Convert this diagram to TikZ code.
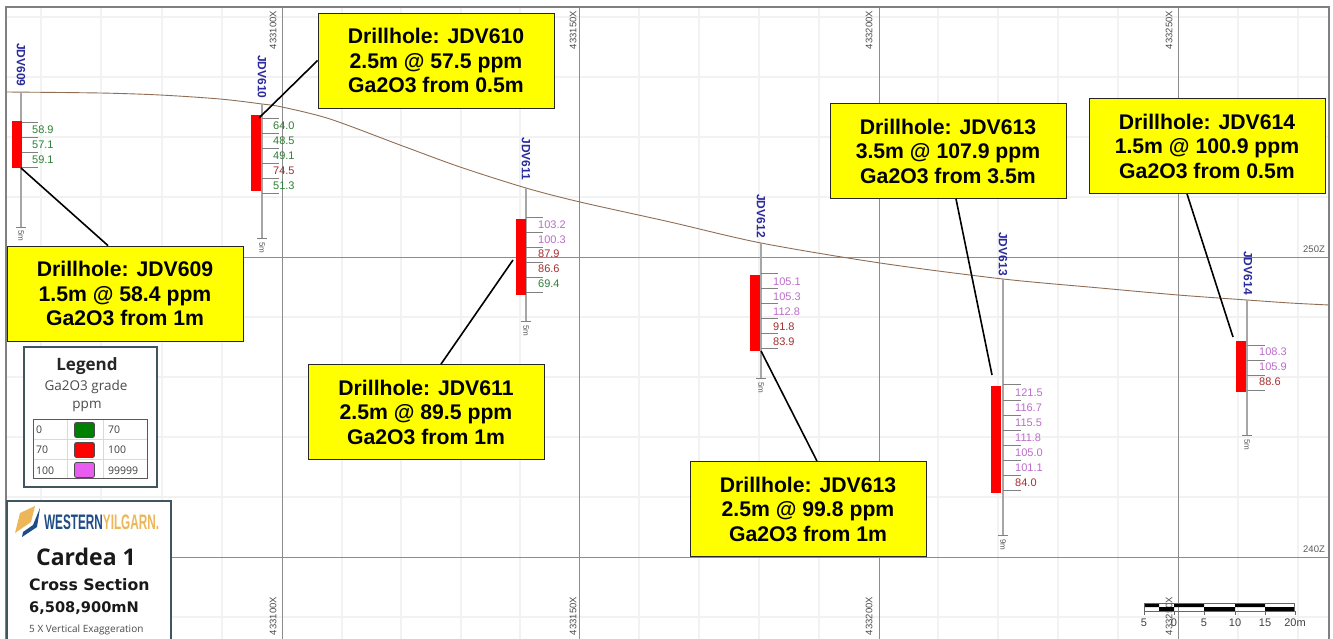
\documentclass[tikz,border=0pt]{standalone}
\usepackage{fontspec}
\setmainfont{Liberation Sans}
\newfontfamily\legendfont{Open Sans}
\newfontfamily\titlefont{DejaVu Sans}
\usetikzlibrary{calc}
\definecolor{gradegreen}{HTML}{2F7F36}
\definecolor{gradered}{HTML}{A62E2E}
\definecolor{gradepink}{HTML}{BC6CCB}
\definecolor{holeblue}{HTML}{2B2B9C}
\definecolor{slateline}{HTML}{3F5560}
\definecolor{logonavy}{HTML}{1F4C86}
\definecolor{logogold}{HTML}{EDB659}
\definecolor{calloutfill}{HTML}{FFFF00}
\definecolor{swatchpink}{HTML}{E85CF0}
\definecolor{groundline}{HTML}{8F6E55}
\tikzstyle{majorline} = [draw=black!45,line width=1pt]
\tikzstyle{faintline} = [draw=black!5,line width=1.2pt]
\tikzstyle{gridlabel} = [text=black!70,font=\fontsize{9.5}{10}\selectfont,inner sep=0pt,rotate=90]
\tikzstyle{levellabel} = [text=black!65,font=\fontsize{9.5}{10}\selectfont,inner sep=0pt]
\tikzstyle{trace} = [draw=black!35,line width=1.1pt]
\tikzstyle{tick} = [draw=black!50,line width=0.8pt]
\tikzstyle{holelabel} = [text=holeblue,font=\bfseries\fontsize{12}{12}\selectfont,inner sep=0pt,rotate=-90]
\tikzstyle{lengthlabel} = [text=black!65,font=\fontsize{8}{8}\selectfont,inner sep=0pt,rotate=-90]
\tikzstyle{assay} = [font=\fontsize{11}{11}\selectfont,inner sep=0pt,anchor=west]
\tikzstyle{interval} = [fill=red,draw=none,inner sep=0pt,minimum width=10pt]
\tikzstyle{callout} = [fill=calloutfill,draw=black!85,line width=0.8pt,minimum width=236pt,minimum height=95pt,
  align=center,inner sep=0pt,font=\bfseries\fontsize{21.2}{24.5}\selectfont]
\tikzstyle{leader} = [draw=black,line width=1.6pt]
\tikzstyle{panel} = [fill=white,draw=slateline,line width=1.5pt,inner sep=0pt]
\tikzstyle{legendtext} = [font=\legendfont\fontsize{10.5}{10.5}\selectfont,text=black!75,inner sep=0pt,anchor=west]
\tikzstyle{swatch} = [draw=black!70,line width=0.8pt,rounded corners=2pt,inner sep=0pt,minimum width=20pt,minimum height=15pt]
\tikzstyle{scaletext} = [text=black!75,font=\fontsize{11}{11}\selectfont,inner sep=0pt]
\begin{document}
\begin{tikzpicture}[x=1pt,y=-1pt]
  \useasboundingbox (0,0) rectangle (1333,639);
  \fill[white] (0,0) rectangle (1333,639);

  % Faint grid
  \foreach \gx in {41,101,162,222,342,401,461,520,639,699,759,819,938,998,1058,1118,1238,1298}
    \draw[faintline] (\gx,8) -- (\gx,639);
  \foreach \gy in {17,77,137,197,317,377,437,497,617}
    \draw[faintline] (7,\gy) -- (1328,\gy);

  % Main grid and frame
  \foreach \gx in {282,579,879,1178}
    \draw[majorline] (\gx,8) -- (\gx,639);
  \foreach \gy in {257,557}
    \draw[majorline] (7,\gy) -- (1328,\gy);
  \draw[draw=black!50,line width=1.3pt] (6,639) -- (6,7) -- (1329,7) -- (1329,639);

  % Grid labels
  \foreach \gx/\gn in {273/433100X,573/433150X,869/433200X,1169/433250X} {
    \node[gridlabel] (top\gn) at (\gx,30) {\gn};
    \node[gridlabel] (bot\gn) at (\gx,616) {\gn};
  }
  \node[levellabel] (level250) at (1314,249) {250Z};
  \node[levellabel] (level240) at (1314,549) {240Z};

  % Ground surface
  \draw[draw=groundline,line width=0.9pt] plot[smooth,tension=0.5] coordinates {(6,92) (100,93) (160,95)
    (220,99) (262,104) (282,107) (330,119) (400,145) (460,167) (526,188) (580,202) (670,222) (761,243)
    (880,263) (1003,279) (1100,288) (1178,295) (1247,300) (1290,303) (1329,305)};

  % Hole JDV609
  \node[holelabel] (name609) at (21,65) {JDV609};
  \coordinate (collar609) at (21,92);
  \coordinate (toe609) at (21,227);
  \draw[trace] (collar609) -- (toe609);
  \draw[tick] ($(toe609)+(-5,0)$) -- ($(toe609)+(5,0)$);
  \foreach \ty in {122,137,152,167}
    \draw[tick] (21,\ty) -- (38,\ty);
  \foreach \ty/\val/\col in {130/58.9/gradegreen,145/57.1/gradegreen,160/59.1/gradegreen}
    \node[assay,text=\col] (v609-\ty) at (32,\ty) {\val};
  \node[lengthlabel] (len609) at (21,236) {5m};
  \node[interval,minimum height=47pt] (bar609) at (17,144.5) {};

  % Hole JDV610
  \node[holelabel] (name610) at (262,77) {JDV610};
  \coordinate (collar610) at (262,104);
  \coordinate (toe610) at (262,238);
  \draw[trace] (collar610) -- (toe610);
  \draw[tick] ($(toe610)+(-5,0)$) -- ($(toe610)+(5,0)$);
  \foreach \ty in {118,133,148,163,178,193}
    \draw[tick] (262,\ty) -- (279,\ty);
  \foreach \ty/\val/\col in {126/64.0/gradegreen,141/48.5/gradegreen,156/49.1/gradegreen,171/74.5/gradered,186/51.3/gradegreen}
    \node[assay,text=\col] (v610-\ty) at (273,\ty) {\val};
  \node[lengthlabel] (len610) at (262,248) {5m};
  \node[interval,minimum height=76pt] (bar610) at (256,153) {};

  % Hole JDV611
  \node[holelabel] (name611) at (526,159) {JDV611};
  \coordinate (collar611) at (526,188);
  \coordinate (toe611) at (526,321);
  \draw[trace] (collar611) -- (toe611);
  \draw[tick] ($(toe611)+(-5,0)$) -- ($(toe611)+(5,0)$);
  \foreach \ty in {217,232,247,262,277,292}
    \draw[tick] (526,\ty) -- (543,\ty);
  \foreach \ty/\val/\col in {225/103.2/gradepink,240/100.3/gradepink,254/87.9/gradered,269/86.6/gradered,284/69.4/gradegreen}
    \node[assay,text=\col] (v611-\ty) at (538,\ty) {\val};
  \node[lengthlabel] (len611) at (526,331) {5m};
  \node[interval,minimum height=76pt] (bar611) at (521,257) {};

  % Hole JDV612
  \node[holelabel] (name612) at (761,216) {JDV612};
  \coordinate (collar612) at (761,243);
  \coordinate (toe612) at (761,378);
  \draw[trace] (collar612) -- (toe612);
  \draw[tick] ($(toe612)+(-5,0)$) -- ($(toe612)+(5,0)$);
  \foreach \ty in {273,288,303,318,333,348}
    \draw[tick] (761,\ty) -- (778,\ty);
  \foreach \ty/\val/\col in {282/105.1/gradepink,297/105.3/gradepink,312/112.8/gradepink,327/91.8/gradered,342/83.9/gradered}
    \node[assay,text=\col] (v612-\ty) at (773,\ty) {\val};
  \node[lengthlabel] (len612) at (761,388) {5m};
  \node[interval,minimum height=76pt] (bar612) at (755,313) {};

  % Hole JDV613
  \node[holelabel] (name613) at (1003,254) {JDV613};
  \coordinate (collar613) at (1003,279);
  \coordinate (toe613) at (1003,535);
  \draw[trace] (collar613) -- (toe613);
  \draw[tick] ($(toe613)+(-5,0)$) -- ($(toe613)+(5,0)$);
  \foreach \ty in {384,400,415,430,445,460,475,490}
    \draw[tick] (1003,\ty) -- (1021,\ty);
  \foreach \ty/\val/\col in {393/121.5/gradepink,408/116.7/gradepink,423/115.5/gradepink,438/111.8/gradepink,453/105.0/gradepink,468/101.1/gradepink,483/84.0/gradered}
    \node[assay,text=\col] (v613-\ty) at (1015,\ty) {\val};
  \node[lengthlabel] (len613) at (1003,545) {9m};
  \node[interval,minimum height=107pt] (bar613) at (996,439.5) {};

  % Hole JDV614
  \node[holelabel] (name614) at (1248,273) {JDV614};
  \coordinate (collar614) at (1247,300);
  \coordinate (toe614) at (1247,435);
  \draw[trace] (collar614) -- (toe614);
  \draw[tick] ($(toe614)+(-5,0)$) -- ($(toe614)+(5,0)$);
  \foreach \ty in {345,360,375,390}
    \draw[tick] (1247,\ty) -- (1265,\ty);
  \foreach \ty/\val/\col in {352/108.3/gradepink,367/105.9/gradepink,382/88.6/gradered}
    \node[assay,text=\col] (v614-\ty) at (1259,\ty) {\val};
  \node[lengthlabel] (len614) at (1247,445) {5m};
  \node[interval,minimum height=51pt] (bar614) at (1241,366.5) {};

  % Callouts
  \node[callout] (box609) at (125,293.5) {Drillhole: JDV609\\1.5m @ 58.4 ppm\\Ga2O3 from 1m};
  \node[callout] (box610) at (436,60.5) {Drillhole: JDV610\\2.5m @ 57.5 ppm\\Ga2O3 from 0.5m};
  \node[callout] (box611) at (426,412) {Drillhole: JDV611\\2.5m @ 89.5 ppm\\Ga2O3 from 1m};
  \node[callout] (box612) at (808,509) {Drillhole: JDV613\\2.5m @ 99.8 ppm\\Ga2O3 from 1m};
  \node[callout] (box613) at (948,151) {Drillhole: JDV613\\3.5m @ 107.9 ppm\\Ga2O3 from 3.5m};
  \node[callout] (box614) at (1207,146) {Drillhole: JDV614\\1.5m @ 100.9 ppm\\Ga2O3 from 0.5m};

  % Leaders
  \coordinate (tip609) at (21,168);
  \coordinate (tip610) at (259,118);
  \coordinate (tip611) at (513,260);
  \coordinate (tip612) at (761,351);
  \coordinate (tip613) at (992,375);
  \coordinate (tip614) at (1233,337);
  \draw[leader] (tip609) -- ([xshift=-17pt]box609.north);
  \draw[leader] (tip610) -- (box610.west);
  \draw[leader] (tip611) -- ([xshift=15pt]box611.north);
  \draw[leader] (tip612) -- ([xshift=9pt]box612.north);
  \draw[leader] (tip613) -- ([xshift=8pt]box613.south);
  \draw[leader] (tip614) -- ([xshift=-20pt]box614.south);

  % Legend
  \node[panel,minimum width=133pt,minimum height=140pt] (legendbox) at (90.5,417) {};
  \node[inner sep=0pt,font=\legendfont\bfseries\fontsize{17}{17}\selectfont,text=black!85] (legendtitle) at (87,366) {Legend};
  \node[inner sep=0pt,font=\legendfont\fontsize{13.5}{13.5}\selectfont,text=black!70] (legendgrade) at (86,387) {Ga2O3 grade};
  \node[inner sep=0pt,font=\legendfont\fontsize{13.5}{13.5}\selectfont,text=black!70] (legendunit) at (87,406) {ppm};
  \draw[draw=black!15,line width=0.8pt] (33,439) -- (147,439) (33,459) -- (147,459) (67,419) -- (67,478) (103,419) -- (103,478);
  \draw[draw=black!65,line width=0.9pt] (33,419) rectangle (147,478);
  \node[swatch,fill=green!50!black] (swatchlow) at (84.5,430) {};
  \node[swatch,fill=red] (swatchmid) at (84.5,450) {};
  \node[swatch,fill=swatchpink] (swatchhigh) at (84.5,470) {};
  \foreach \ty/\lo/\hi in {430/0/70,450/70/100,471/100/99999} {
    \node[legendtext] (lo\lo) at (36,\ty) {\lo};
    \node[legendtext] (hi\hi) at (108,\ty) {\hi};
  }

  % Title block
  \node[panel,minimum width=164pt,minimum height=150pt] (titlebox) at (89,576) {};
  \fill[logogold] (15,533) -- (20,513) -- (35,506) -- (31,522) -- cycle;
  \fill[logonavy] (40,508) -- (37,527) -- (22,537) -- (23,532) -- (33,525) -- cycle;
  \node[inner sep=0pt,anchor=west,xscale=0.56,transform shape,font=\bfseries\fontsize{21}{21}\selectfont] (brand) at (44,522)
    {\textcolor{logonavy}{WESTERN}\textcolor{logogold}{YILGARN.}};
  \node[inner sep=0pt,font=\legendfont\bfseries\fontsize{23}{23}\selectfont,text=black!90] (sitename) at (86,557) {Cardea 1};
  \node[inner sep=0pt,font=\titlefont\bfseries\fontsize{15.7}{15.7}\selectfont,text=black!90,anchor=west] (sectionname) at (29,585) {Cross Section};
  \node[inner sep=0pt,font=\titlefont\bfseries\fontsize{14.6}{14.6}\selectfont,text=black!90,anchor=west] (northing) at (29,608) {6,508,900mN};
  \node[inner sep=0pt,font=\legendfont\fontsize{10}{10}\selectfont,text=black!70,anchor=west] (exaggeration) at (29,630) {5 X Vertical Exaggeration};

  % Scale bar
  \fill[black] (1144,603) rectangle (1159,607) (1174,603) rectangle (1204,607) (1235,603) rectangle (1265,607);
  \fill[black] (1159,607) rectangle (1174,611) (1204,607) rectangle (1235,611) (1265,607) rectangle (1294,611);
  \draw[draw=black!60,line width=0.6pt] (1144,603) rectangle (1294,611);
  \foreach \sx/\sn/\st in {1144/a/5,1174/b/0,1204/c/5,1235/d/10,1265/e/15,1295/f/20m} {
    \draw[draw=black!60,line width=0.6pt] (\sx,611) -- (\sx,615);
    \node[scaletext] (scale\sn) at (\sx,623) {\st};
  }
\end{tikzpicture}
\end{document}
